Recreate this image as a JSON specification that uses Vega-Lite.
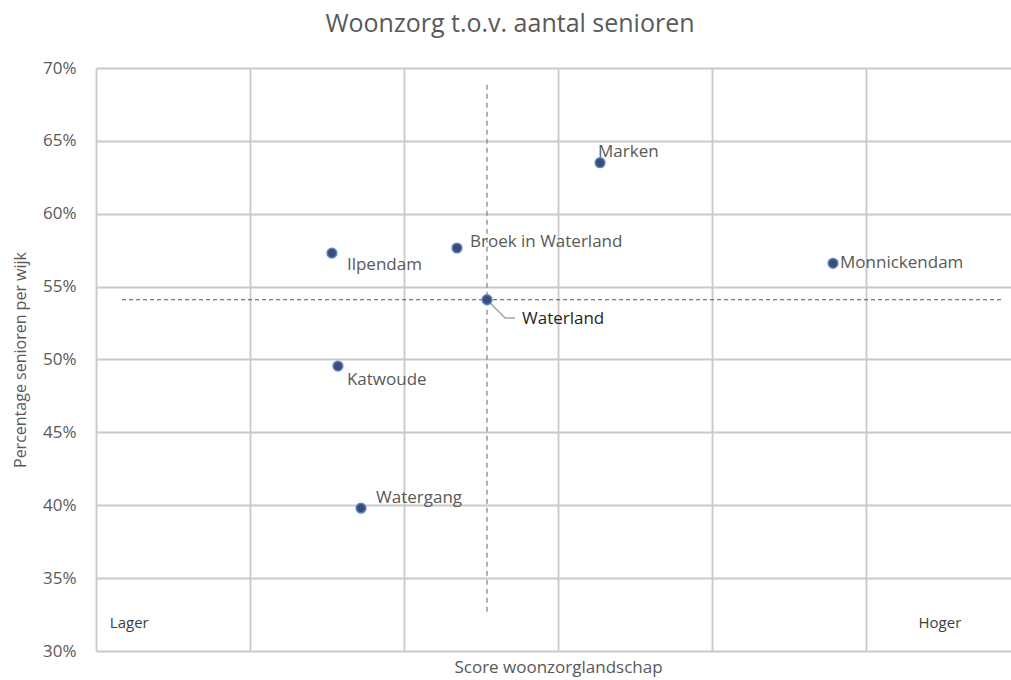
{
  "$schema": "https://vega.github.io/schema/vega-lite/v6.json",
  "autosize": "none",
  "padding": {"left": 96, "top": 68, "right": 0, "bottom": 29},
  "width": 924,
  "height": 583,
  "title": {"text": "Woonzorg t.o.v. aantal senioren", "frame": "group", "anchor": "middle", "dx": -48, "offset": 22, "fontSize": 25, "font": "Open Sans", "fontWeight": "normal", "color": "#595959"},
  "config": {
    "view": {"stroke": null},
    "font": "Open Sans",
    "axis": {"gridColor": "#c9c9c9", "gridWidth": 1.8, "domain": false, "ticks": false, "labelFont": "Open Sans", "titleFont": "Open Sans", "labelColor": "#595959", "titleColor": "#595959", "titleFontWeight": "normal", "labelFontSize": 17, "titleFontSize": 16}
  },
  "datasets": {
    "wijken": [
      {"wijk": "Ilpendam", "score": 1.532, "pct": 0.573},
      {"wijk": "Katwoude", "score": 1.571, "pct": 0.4955},
      {"wijk": "Watergang", "score": 1.721, "pct": 0.398},
      {"wijk": "Broek in Waterland", "score": 2.344, "pct": 0.5765},
      {"wijk": "Waterland", "score": 2.539, "pct": 0.541},
      {"wijk": "Marken", "score": 3.273, "pct": 0.635},
      {"wijk": "Monnickendam", "score": 4.786, "pct": 0.566}
    ],
    "refs": [
      {"kind": "h", "score": 0.169, "score2": 5.883, "pct": 0.541, "pct2": 0.541},
      {"kind": "v", "score": 2.539, "score2": 2.539, "pct": 0.327, "pct2": 0.69}
    ],
    "leader": [
      {"step": 1, "score": 2.539, "pct": 0.541},
      {"step": 2, "score": 2.656, "pct": 0.5285},
      {"step": 3, "score": 2.721, "pct": 0.5285}
    ],
    "corners": [
      {"label": "Lager", "score": 0.09, "pct": 0.319},
      {"label": "Hoger", "score": 5.48, "pct": 0.319}
    ]
  },
  "encoding": {
    "x": {"field": "score", "type": "quantitative", "scale": {"domain": [0, 6], "nice": false, "zero": false}, "axis": {"values": [0, 1, 2, 3, 4, 5, 6], "labels": false, "title": "Score woonzorglandschap", "titlePadding": 8, "titleFontSize": 17}},
    "y": {"field": "pct", "type": "quantitative", "scale": {"domain": [0.3, 0.7], "nice": false, "zero": false}, "axis": {"values": [0.3, 0.35, 0.4, 0.45, 0.5, 0.55, 0.6, 0.65, 0.7], "format": ".0%", "labelPadding": 20, "title": "Percentage senioren per wijk", "titlePadding": 14}}
  },
  "layer": [
    {
      "data": {"name": "refs"},
      "transform": [{"filter": "datum.kind === 'h'"}],
      "mark": {"type": "rule", "color": "#3f5585", "strokeWidth": 1, "strokeDash": [4, 3]},
      "encoding": {"x2": {"field": "score2"}, "y2": {"field": "pct2"}}
    },
    {
      "data": {"name": "refs"},
      "transform": [{"filter": "datum.kind === 'v'"}],
      "mark": {"type": "rule", "color": "#7f7f7f", "strokeWidth": 1.2, "strokeDash": [5, 4]},
      "encoding": {"x2": {"field": "score2"}, "y2": {"field": "pct2"}}
    },
    {
      "data": {"name": "leader"},
      "mark": {"type": "line", "color": "#a6a6a6", "strokeWidth": 1.6},
      "encoding": {"order": {"field": "step", "type": "quantitative"}}
    },
    {
      "data": {"name": "wijken"},
      "mark": {"type": "point", "filled": true, "size": 95, "fill": "#3b4d72", "stroke": "#5b84cc", "strokeWidth": 1.5, "opacity": 1}
    },
    {
      "data": {"name": "wijken"},
      "transform": [{"filter": "datum.wijk === 'Marken'"}],
      "mark": {"type": "text", "align": "left", "baseline": "middle", "dx": -2, "dy": -11, "fontSize": 17, "color": "#595959"},
      "encoding": {"text": {"field": "wijk"}}
    },
    {
      "data": {"name": "wijken"},
      "transform": [{"filter": "datum.wijk === 'Broek in Waterland'"}],
      "mark": {"type": "text", "align": "left", "baseline": "middle", "dx": 13, "dy": -6, "fontSize": 17, "color": "#595959"},
      "encoding": {"text": {"field": "wijk"}}
    },
    {
      "data": {"name": "wijken"},
      "transform": [{"filter": "datum.wijk === 'Ilpendam'"}],
      "mark": {"type": "text", "align": "left", "baseline": "middle", "dx": 15, "dy": 12, "fontSize": 17, "color": "#595959"},
      "encoding": {"text": {"field": "wijk"}}
    },
    {
      "data": {"name": "wijken"},
      "transform": [{"filter": "datum.wijk === 'Katwoude'"}],
      "mark": {"type": "text", "align": "left", "baseline": "middle", "dx": 9, "dy": 14, "fontSize": 17, "color": "#595959"},
      "encoding": {"text": {"field": "wijk"}}
    },
    {
      "data": {"name": "wijken"},
      "transform": [{"filter": "datum.wijk === 'Watergang'"}],
      "mark": {"type": "text", "align": "left", "baseline": "middle", "dx": 15, "dy": -10, "fontSize": 17, "color": "#595959"},
      "encoding": {"text": {"field": "wijk"}}
    },
    {
      "data": {"name": "wijken"},
      "transform": [{"filter": "datum.wijk === 'Monnickendam'"}],
      "mark": {"type": "text", "align": "left", "baseline": "middle", "dx": 7, "dy": 0, "fontSize": 17, "color": "#595959"},
      "encoding": {"text": {"field": "wijk"}}
    },
    {
      "data": {"name": "wijken"},
      "transform": [{"filter": "datum.wijk === 'Waterland'"}],
      "mark": {"type": "text", "align": "left", "baseline": "middle", "dx": 35, "dy": 19, "fontSize": 17, "color": "#1f1f1f", "fontWeight": 500},
      "encoding": {"text": {"field": "wijk"}}
    },
    {
      "data": {"name": "corners"},
      "transform": [{"filter": "datum.label === 'Lager'"}],
      "mark": {"type": "text", "align": "left", "baseline": "middle", "fontSize": 15, "color": "#404040"},
      "encoding": {"text": {"field": "label"}}
    },
    {
      "data": {"name": "corners"},
      "transform": [{"filter": "datum.label === 'Hoger'"}],
      "mark": {"type": "text", "align": "center", "baseline": "middle", "fontSize": 15, "color": "#404040"},
      "encoding": {"text": {"field": "label"}}
    }
  ]
}
